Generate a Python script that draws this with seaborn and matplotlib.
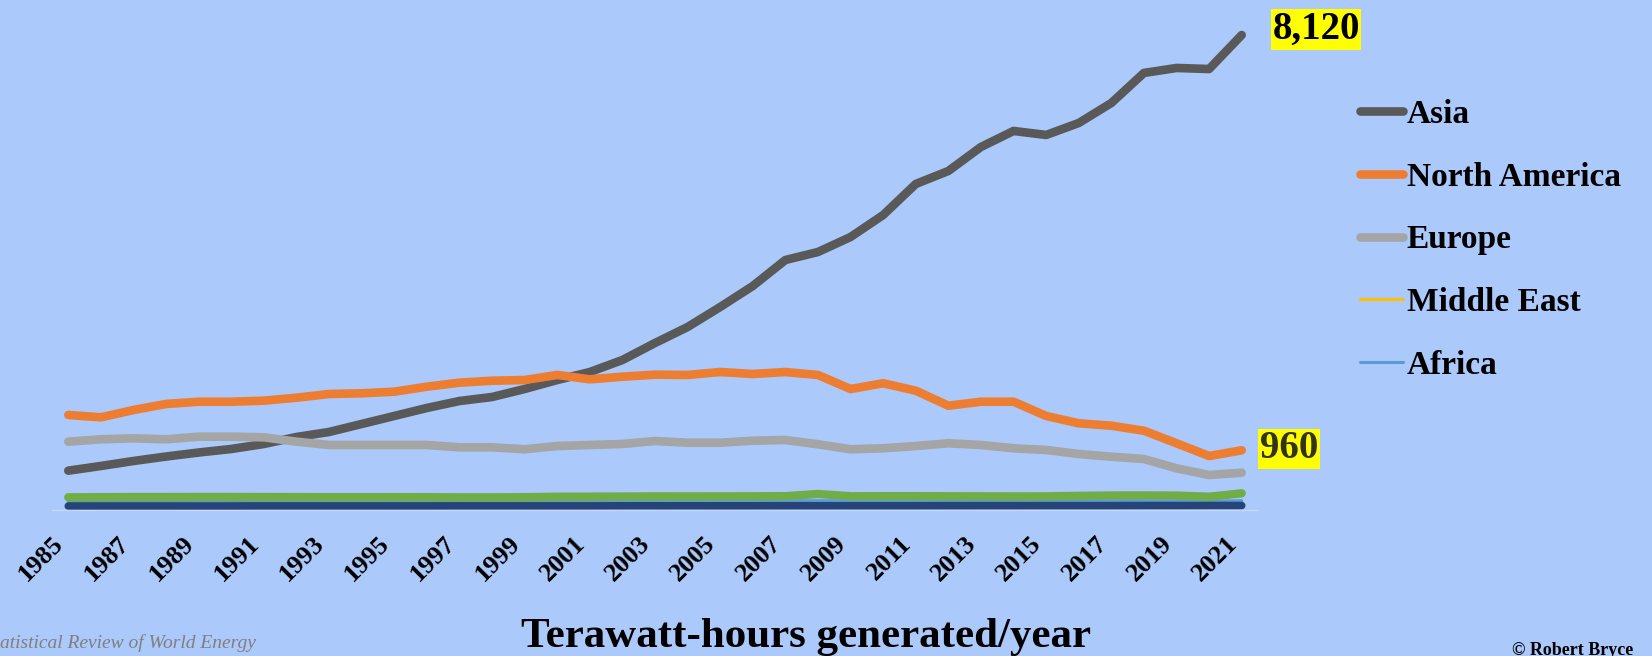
import numpy as np
import pandas as pd
import matplotlib
matplotlib.use('Agg')
import matplotlib.pyplot as plt
import seaborn as sns
from matplotlib.lines import Line2D

#%% data (TWh)

years = list(range(1985, 2022))

asia = [609, 690, 776, 853, 922, 983, 1069, 1190, 1276, 1414,
        1552, 1690, 1810, 1879, 2017, 2172, 2310, 2517, 2810, 3086,
        3431, 3793, 4241, 4379, 4638, 5017, 5552, 5776, 6190, 6466,
        6397, 6603, 6948, 7466, 7552, 7534, 8120]

north_america = [1569, 1529, 1655, 1759, 1798, 1798, 1816, 1867, 1931, 1943,
                 1971, 2057, 2126, 2160, 2172, 2259, 2184, 2229, 2264, 2259,
                 2310, 2276, 2310, 2259, 2017, 2116, 1988, 1729, 1798, 1798,
                 1552, 1426, 1384, 1298, 1081, 862, 960]

europe = [1109, 1150, 1167, 1150, 1195, 1195, 1184, 1109, 1052, 1052,
          1052, 1052, 1012, 1012, 978, 1034, 1052, 1069, 1121, 1091,
          1091, 1126, 1138, 1064, 978, 995, 1034, 1081, 1052, 995,
          966, 897, 850, 810, 650, 534, 574]

middle_east = [0, 0, 0, 0, 0, 0, 0, 0, 0, 0,
               0, 0, 0, 0, 0, 0, 0, 0, 0, 0,
               0, 0, 0, 0, 0, 0, 0, 0, 0, 0,
               1, 1, 1, 1, 1, 1, 1]

africa = [80, 80, 81, 81, 82, 82, 82, 82, 83, 83,
          84, 84, 84, 85, 85, 86, 86, 87, 88, 88,
          89, 90, 90, 92, 90, 90, 91, 90, 90, 90,
          89, 90, 91, 91, 90, 85, 92]

# two series drawn in the chart but left out of its legend
unlabeled_green = [150, 152, 155, 155, 156, 156, 155, 154, 152, 152,
                   153, 152, 150, 150, 152, 160, 162, 163, 166, 165,
                   166, 168, 170, 207, 168, 170, 170, 168, 167, 165,
                   167, 175, 181, 182, 180, 160, 219]

unlabeled_navy = [0, 0, 0, 0, 0, 0, 1, 1, 1, 1,
                  1, 1, 2, 2, 2, 2, 2, 3, 3, 3,
                  3, 3, 4, 4, 4, 4, 4, 5, 5, 5,
                  6, 6, 6, 7, 7, 8, 8]

#%%

bg = '#abc9fa'

sns.set_theme(style='white')
plt.rcParams['font.family'] = ['Liberation Serif', 'DejaVu Serif']
plt.rcParams['text.color'] = 'black'
plt.rcParams['xtick.color'] = 'black'

df = pd.DataFrame({
    'year': years,
    'Asia': asia,
    'North America': north_america,
    'Europe': europe,
    'Middle East': middle_east,
    'Africa': africa,
    'green': unlabeled_green,
    'navy': unlabeled_navy,
}).melt(id_vars='year', var_name='region', value_name='twh')

# region, colour, line width (in draw order)
styles = [
    ('Asia', '#595959', 6.2),
    ('North America', '#ed7d31', 6.2),
    ('Europe', '#a5a5a5', 6.2),
    ('Middle East', '#ffc000', 2.2),
    ('Africa', '#5b9bd5', 2.2),
    ('green', '#70ad47', 6.0),
    ('navy', '#264478', 5.5),
]

fig = plt.figure(figsize=(16.52, 6.56), dpi=100, facecolor=bg)
ax = fig.add_axes([52/1652, 1 - 510/656, 1206/1652, 490/656])
ax.set_facecolor(bg)

for region, color, lw in styles:
    sns.lineplot(data=df[df['region'] == region], x='year', y='twh',
                 color=color, linewidth=lw, ax=ax, legend=False,
                 solid_capstyle='round', solid_joinstyle='round')

ax.set_xlim(1984.5, 2021.5)
ax.set_ylim(-69, 8379)
ax.set_xticks(years[::2])
ax.set_xticklabels([str(y) for y in years[::2]], rotation=45, ha='right',
                   fontsize=19, fontweight='bold', color='black')
ax.tick_params(axis='x', length=0, pad=16)
ax.set_yticks([])
ax.set_xlabel('')
ax.set_ylabel('')
for s in ['top', 'left', 'right']:
    ax.spines[s].set_visible(False)
ax.spines['bottom'].set_color('#c4d8f8')
ax.spines['bottom'].set_linewidth(1)

# value call-outs
ax.annotate('8,120', xy=(2021, 8120), xytext=(22, 4), textcoords='offset points',
            ha='left', va='center', fontsize=28, fontweight='bold', color='black',
            bbox=dict(boxstyle='square,pad=0.04', fc='#ffff00', ec='none'))
ax.annotate('960', xy=(2021, 960), xytext=(13, 1), textcoords='offset points',
            ha='left', va='center', fontsize=28, fontweight='bold', color='#33331a',
            bbox=dict(boxstyle='square,pad=0.04', fc='#ffff00', ec='none'))

handles = [Line2D([0], [0], color=c, lw=lw, solid_capstyle='round')
           for r, c, lw in styles[:5]]
labels = [r for r, c, lw in styles[:5]]
leg = fig.legend(handles, labels, loc='upper left',
                 bbox_to_anchor=(1360/1652, 1 - 99/656),
                 frameon=False, handlelength=1.3,
                 handletextpad=0.1, labelspacing=0.95, borderpad=0,
                 borderaxespad=0, prop={'weight': 'bold', 'size': 24})

fig.text(806/1652, 1 - 637/656, 'Terawatt-hours generated/year',
         ha='center', va='center', fontsize=31, fontweight='bold')
fig.text(0, 1 - 643/656, 'atistical Review of World Energy',
         ha='left', va='center', fontsize=14, style='italic', color='#7f7f7f')
fig.text(1633/1652, -0.004, '© Robert Bryce', ha='right', va='bottom',
         fontsize=13, fontweight='bold')

fig.savefig('out.png', dpi=100, facecolor=bg)
